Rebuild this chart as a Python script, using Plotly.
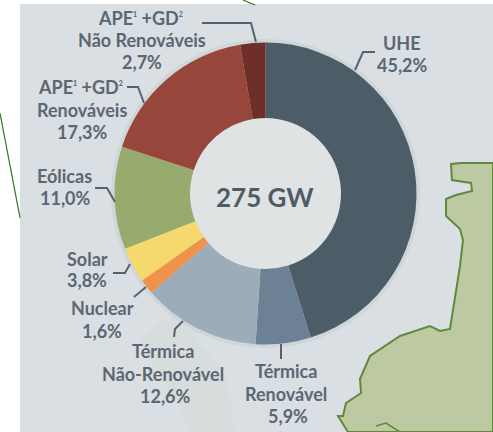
import plotly.graph_objects as go

W, H = 493, 432

# pie slices, clockwise from the top
categories = ['UHE', 'Térmica Renovável', 'Térmica Não-Renovável', 'Nuclear', 'Solar',
              'Eólicas', 'APE+GD Renováveis', 'APE+GD Não Renováveis']
values = [45.2, 5.9, 12.6, 1.6, 3.8, 11.0, 17.3, 2.7]
colors = ['#4d5d68', '#6c8193', '#9dacb9', '#f0924c', '#f5d96f', '#98ab6f', '#96463a', '#6e2f28']
total_label = '275 GW'

# tiny superscripts, as in the original
ape_gd = 'APE<sup><span style="font-size:7px">1</span></sup> +GD<sup><span style="font-size:7px">2</span></sup>'

# label text, line by line
label_lines = [
    ['UHE', '45,2%'],
    ['Térmica', 'Renovável', '5,9%'],
    ['Térmica', 'Não-Renovável', '12,6%'],
    ['Nuclear', '1,6%'],
    ['Solar', '3,8%'],
    ['Eólicas', '11,0%'],
    [ape_gd, 'Renováveis', '17,3%'],
    [ape_gd, 'Não Renováveis', '2,7%'],
]
# centre of each text line in pixels
label_pos = [
    [(402, 43), (402, 65)],
    [(286, 371), (286, 394), (288, 416)],
    [(163, 351), (163, 374), (165, 396)],
    [(102, 308), (102, 331)],
    [(87, 259), (87, 280)],
    [(64, 176), (65, 198)],
    [(80, 87), (82, 110), (82, 132)],
    [(140, 18), (142, 40), (142, 62)],
]
# leader lines in pixels
leaders = [
    [(375, 52), (363, 52), (355, 70)],
    [(281, 344), (281, 359)],
    [(174, 337), (175, 329), (183, 321)],
    [(134, 297), (146, 287)],
    [(113, 273), (125, 273), (130, 264)],
    [(95, 188), (107, 188), (115, 202)],
    [(127, 87), (138, 87), (144, 103)],
    [(202, 23), (251, 23), (256, 42)],
]

land = [(493, 163), (461, 163), (451, 164), (452, 180), (471, 183), (472, 191), (456, 195), (446, 199),
        (446, 216), (460, 229), (463, 240), (460, 266), (450, 329), (440, 331), (430, 326), (400, 336),
        (370, 356), (360, 379), (361, 393), (346, 403), (343, 416), (338, 416), (348, 432), (493, 432)]
river = [(376, 426), (386, 423), (400, 432)]
shade = [(140, 340), (160, 322), (178, 316), (200, 345), (225, 370), (235, 432), (192, 432), (165, 385)]


def px(x, y):
    return x / W, 1 - y / H


def path(points, close=False):
    parts = []
    for i, (x, y) in enumerate(points):
        fx, fy = px(x, y)
        parts.append(f"{'M' if i == 0 else 'L'}{fx:.4f},{fy:.4f}")
    return ' '.join(parts) + (' Z' if close else '')


shapes = [
    dict(type='rect', x0=20 / W, x1=1, y0=0, y1=1 - 4 / H, fillcolor='#d9dfe2', line_width=0, layer='below'),
    dict(type='path', path=path(shade, True), fillcolor='#d7dcdd', line_width=0, layer='below'),
    dict(type='path', path=path(land, True), fillcolor='#bcc9a2', line=dict(color='#5f8a3c', width=2), layer='below'),
    dict(type='path', path=path(river), line=dict(color='#5f8a3c', width=1.5), layer='below'),
    dict(type='path', path=path([(0, 113), (20, 218)]), line=dict(color='#2f7a1e', width=1.2)),
    dict(type='path', path=path([(243, 0), (255, 5)]), line=dict(color='#2f7a1e', width=1.2)),
    # soft shadow round the ring, and the lighter centre
    dict(type='circle', x0=111 / W, x1=420 / W, y0=1 - 348 / H, y1=1 - 39 / H,
         fillcolor='#cfd6d9', line_width=0, layer='below'),
    dict(type='circle', x0=189 / W, x1=343 / W, y0=1 - 271 / H, y1=1 - 117 / H,
         fillcolor='#dfe3e3', line=dict(color='#b9c0c3', width=2), layer='below'),
]
for pts in leaders:
    shapes.append(dict(type='path', path=path(pts), line=dict(color='#56636e', width=2)))

annotations = []
for lines, positions in zip(label_lines, label_pos):
    for text, (x, y) in zip(lines, positions):
        fx, fy = px(x, y)
        annotations.append(dict(x=fx, y=fy, xref='paper', yref='paper', text=text, showarrow=False,
                                xanchor='center', yanchor='middle',
                                font=dict(family='Lato', size=18, color='#5b6772', weight='bold')))
fx, fy = px(265, 197)
annotations.append(dict(x=fx, y=fy, xref='paper', yref='paper', text=total_label, showarrow=False,
                        font=dict(family='Lato', size=26, color='#4f5c66', weight='bold')))

fig = go.Figure(go.Pie(
    labels=categories,
    values=values,
    marker=dict(colors=colors, line=dict(width=0)),
    hole=0.5,
    sort=False,
    direction='clockwise',
    rotation=0,
    textinfo='none',
    showlegend=False,
    domain=dict(x=[114.5 / W, 416.5 / W], y=[1 - 344.5 / H, 1 - 42.5 / H]),
))

fig.update_layout(
    width=W,
    height=H,
    margin=dict(l=0, r=0, t=0, b=0),
    paper_bgcolor='white',
    plot_bgcolor='white',
    shapes=shapes,
    annotations=annotations,
)

fig.write_html("out.html", config=dict(displayModeBar=False),
               post_script="document.body.style.margin='0';document.body.style.overflow='hidden';")
